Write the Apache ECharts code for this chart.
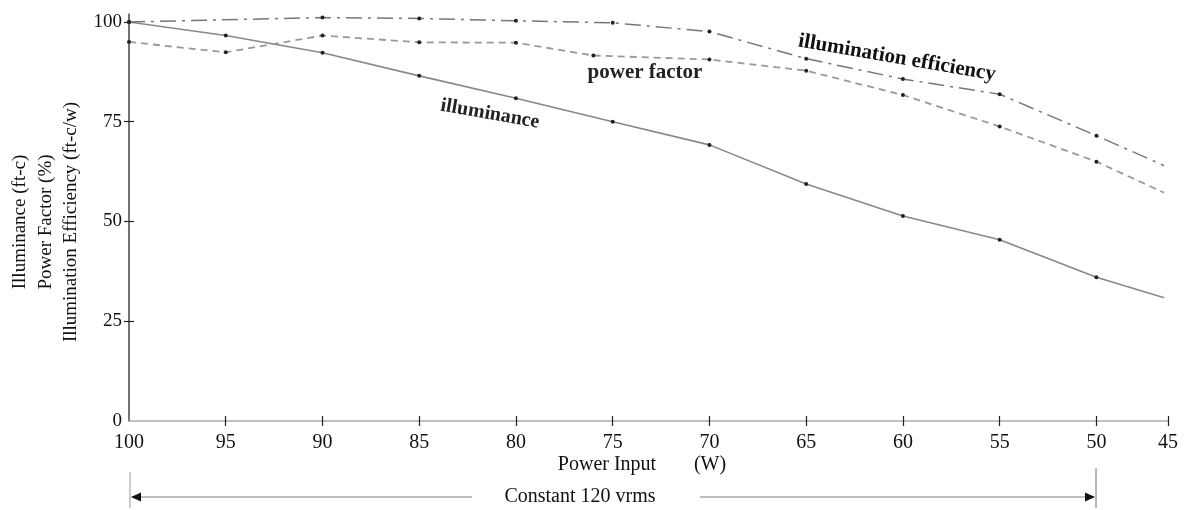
<!DOCTYPE html>
<html>
<head>
<meta charset="utf-8">
<script src="https://cdn.jsdelivr.net/npm/echarts@6/dist/echarts.min.js"></script>
<style>
html,body{margin:0;padding:0;background:#fff;}
#chart{width:1185px;height:510px;}
</style>
</head>
<body>
<div id="chart"></div>
<script>
// ---- data ----
const xTickValues = [100, 95, 90, 85, 80, 75, 70, 65, 60, 55, 50];
const xEndTickLabel = '45';
const X_AXIS_END = 46.3;     // right end of the drawn axis (labelled "45")
const X_LINE_END = 46.5;     // where the curves stop
const yTickValues = [0, 25, 50, 75, 100];

const illumX = [100, 95, 90, 85, 80, 75, 70, 65, 60, 55, 50];
const illumY = [100, 96.6, 92.3, 86.5, 80.9, 75.0, 69.2, 59.4, 51.4, 45.4, 36.0];
const illumEnd = 30.9;

const pfX = [100, 95, 90, 85, 80, 76, 70, 65, 60, 55, 50];
const pfY = [95.0, 92.4, 96.6, 94.9, 94.8, 91.6, 90.6, 87.8, 81.7, 73.8, 65.0];
const pfEnd = 57.2;

const effX = [100, 90, 85, 80, 75, 70, 65, 60, 55, 50];
const effY = [100, 101.1, 100.9, 100.3, 99.8, 97.6, 90.8, 85.7, 81.9, 71.5];
const effEnd = 64.0;

const yTitleLines = ['Illuminance (ft-c)', 'Power Factor (%)', 'Illumination Efficiency (ft-c/w)'];
const xTitle = 'Power Input';
const xUnit = '(W)';
const rangeNote = 'Constant 120 vrms';

function build(xs, ys, end) {
  return xs.map((x, i) => [x, ys[i]]).concat([{ value: [X_LINE_END, end], symbol: 'none' }]);
}

const FONT = "'Liberation Serif', 'DejaVu Serif', serif";
const chart = echarts.init(document.getElementById('chart'), null, { renderer: 'canvas' });

const xLabelVals = xTickValues.concat([X_AXIS_END]);
const xTickVals = xTickValues.slice(1).concat([X_AXIS_END]);
const xFmt = v => (Math.abs(v - X_AXIS_END) < 1e-6 ? xEndTickLabel : String(v));

const option = {
  animation: false,
  backgroundColor: '#fff',
  grid: { left: 129, right: 17, top: 14, bottom: 89, containLabel: false },
  xAxis: [{
    type: 'value', inverse: true, min: X_AXIS_END, max: 100,
    axisLine: { show: true, lineStyle: { color: '#aaa', width: 1.5 } },
    axisTick: { show: true, inside: false, length: 5, customValues: xTickVals, lineStyle: { color: '#222', width: 1.2 } },
    axisLabel: { show: true, customValues: xLabelVals, formatter: xFmt, margin: 12, color: '#111', fontSize: 20, fontFamily: FONT },
    splitLine: { show: false }
  }, {
    type: 'value', inverse: true, min: X_AXIS_END, max: 100, position: 'bottom', offset: 0,
    axisLine: { show: true, lineStyle: { color: 'rgba(0,0,0,0)', width: 0 } },
    axisTick: { show: true, inside: true, length: 5, customValues: xTickVals, lineStyle: { color: '#222', width: 1.2 } },
    axisLabel: { show: true, customValues: xLabelVals, formatter: () => '' },
    splitLine: { show: false }
  }],
  yAxis: [{
    type: 'value', min: 0, max: 102,
    axisLine: { show: true, lineStyle: { color: '#444', width: 1.5 } },
    axisTick: { show: true, inside: false, length: 5, customValues: yTickValues.slice(1), lineStyle: { color: '#222', width: 1.2 } },
    axisLabel: { show: true, customValues: yTickValues, margin: 7, color: '#111', fontSize: 19, fontFamily: FONT },
    splitLine: { show: false }
  }, {
    type: 'value', min: 0, max: 102, position: 'left', offset: 0,
    axisLine: { show: true, lineStyle: { color: 'rgba(0,0,0,0)', width: 0 } },
    axisTick: { show: true, inside: true, length: 5, customValues: yTickValues.slice(1), lineStyle: { color: '#222', width: 1.2 } },
    axisLabel: { show: true, customValues: yTickValues, formatter: () => '' },
    splitLine: { show: false }
  }],
  series: [{
    name: 'illuminance', type: 'line', xAxisIndex: 0, yAxisIndex: 0, clip: false,
    data: build(illumX, illumY, illumEnd),
    symbol: 'circle', symbolSize: 4, itemStyle: { color: '#222' },
    lineStyle: { color: '#888', width: 1.6, type: 'solid' }
  }, {
    name: 'power factor', type: 'line', xAxisIndex: 0, yAxisIndex: 0, clip: false,
    data: build(pfX, pfY, pfEnd),
    symbol: 'circle', symbolSize: 4, itemStyle: { color: '#222' },
    lineStyle: { color: '#999', width: 1.8, type: [7, 5] }
  }, {
    name: 'illumination efficiency', type: 'line', xAxisIndex: 0, yAxisIndex: 0, clip: false,
    data: build(effX, effY, effEnd),
    symbol: 'circle', symbolSize: 4, itemStyle: { color: '#222' },
    lineStyle: { color: '#777', width: 1.5, type: [16, 6, 3, 6] }
  }, {
    // empty helper series so the tick-only axes are bound to data
    type: 'line', xAxisIndex: 1, yAxisIndex: 1, data: [], silent: true
  }],
  graphic: [
    // y-axis title (three lines)
    { type: 'text', x: 20, y: 222, rotation: Math.PI / 2, style: { text: yTitleLines[0], align: 'center', verticalAlign: 'middle', textAlign: 'center', textVerticalAlign: 'middle', fill: '#111', font: "19px " + FONT } },
    { type: 'text', x: 46, y: 222, rotation: Math.PI / 2, style: { text: yTitleLines[1], align: 'center', verticalAlign: 'middle', textAlign: 'center', textVerticalAlign: 'middle', fill: '#111', font: "19px " + FONT } },
    { type: 'text', x: 71, y: 222, rotation: Math.PI / 2, style: { text: yTitleLines[2], align: 'center', verticalAlign: 'middle', textAlign: 'center', textVerticalAlign: 'middle', fill: '#111', font: "19px " + FONT } },
    // curve annotations
    { type: 'text', x: 490, y: 114, rotation: -10 * Math.PI / 180, style: { text: 'illuminance', align: 'center', verticalAlign: 'middle', textAlign: 'center', textVerticalAlign: 'middle', fill: '#222', font: "bold 20px " + FONT } },
    { type: 'text', x: 645, y: 73, style: { text: 'power factor', align: 'center', verticalAlign: 'middle', textAlign: 'center', textVerticalAlign: 'middle', fill: '#222', font: "bold 21px " + FONT } },
    { type: 'text', x: 897, y: 58, rotation: -9.8 * Math.PI / 180, style: { text: 'illumination efficiency', align: 'center', verticalAlign: 'middle', textAlign: 'center', textVerticalAlign: 'middle', fill: '#111', font: "bold 21px " + FONT } },
    // x-axis title
    { type: 'text', x: 607, y: 465, style: { text: xTitle, align: 'center', verticalAlign: 'middle', textAlign: 'center', textVerticalAlign: 'middle', fill: '#111', font: "20px " + FONT } },
    { type: 'text', x: 710, y: 465, style: { text: xUnit, align: 'center', verticalAlign: 'middle', textAlign: 'center', textVerticalAlign: 'middle', fill: '#111', font: "20px " + FONT } },
    // constant voltage range
    { type: 'line', shape: { x1: 130, y1: 472, x2: 130, y2: 508 }, style: { stroke: '#999', lineWidth: 1 } },
    { type: 'line', shape: { x1: 1096, y1: 468, x2: 1096, y2: 508 }, style: { stroke: '#777', lineWidth: 1 } },
    { type: 'line', shape: { x1: 132, y1: 497, x2: 472, y2: 497 }, style: { stroke: '#aaa', lineWidth: 1.5 } },
    { type: 'line', shape: { x1: 700, y1: 497, x2: 1094, y2: 497 }, style: { stroke: '#aaa', lineWidth: 1.5 } },
    { type: 'polygon', shape: { points: [[131, 497], [141, 492.5], [141, 501.5]] }, style: { fill: '#111' } },
    { type: 'polygon', shape: { points: [[1095, 497], [1085, 492.5], [1085, 501.5]] }, style: { fill: '#111' } },
    { type: 'text', x: 580, y: 497, style: { text: rangeNote, align: 'center', verticalAlign: 'middle', textAlign: 'center', textVerticalAlign: 'middle', fill: '#111', font: "20px " + FONT } }
  ]
};
chart.setOption(option);
</script>
</body>
</html>
